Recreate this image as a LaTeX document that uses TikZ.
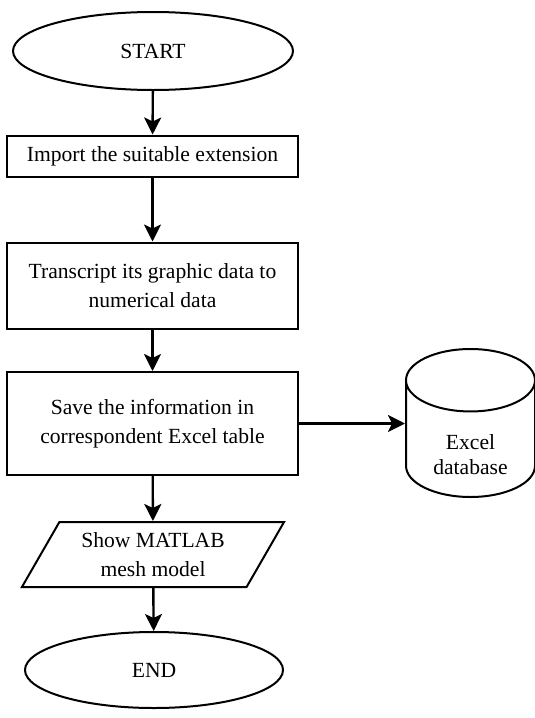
\documentclass[tikz,border=0pt]{standalone}
\usepackage{fontspec}
\setmainfont{Liberation Serif}
\usetikzlibrary{arrows.meta,shapes.geometric}

\begin{document}
\begin{tikzpicture}[x=0.5pt,y=-0.5pt,>={Stealth[length=8.5pt,width=8.5pt,inset=2pt]},
  font=\fontsize{10.8}{14.5}\selectfont,
  terminal/.style={draw,ellipse,line width=1pt,inner sep=0pt},
  procbox/.style={draw,rectangle,line width=1pt,align=center,minimum width=145.5pt,inner sep=0pt},
  iobox/.style={draw,trapezium,trapezium left angle=57,trapezium right angle=123,
    trapezium stretches,line width=1pt,align=center,minimum width=132pt,minimum height=32.5pt,inner sep=0pt},
  dbstore/.style={draw,cylinder,shape border rotate=90,aspect=0.84,line width=1pt,
    minimum width=64.5pt,minimum height=74pt,inner sep=0pt},
  flow/.style={->,line width=1.2pt}]
  \useasboundingbox (0,0) rectangle (535,718);

  \node[terminal,minimum width=140pt,minimum height=39pt] (start) at (153,51) {START};
  \node[procbox,minimum height=20.5pt] (import) at (152.5,156) {Import the suitable extension};
  \node[procbox,minimum height=43pt] (transcript) at (152.5,285.5)
    {Transcript its graphic data to\\numerical data};
  \node[procbox,minimum height=51.5pt] (save) at (152.5,423.5)
    {Save the information in\\correspondent Excel table};
  \node[dbstore,anchor=shape center] (excel) at (470.5,423) {\phantom{database}};
  \node[align=center,font=\fontsize{10.8}{12.5}\selectfont] (exceltext)
    at ([yshift=-15.75pt]excel.shape center) {Excel\\database};
  \node[iobox] (show) at (153,554.5) {Show MATLAB\\mesh model};
  \node[terminal,minimum width=129pt,minimum height=38pt] (end) at (154,670) {END};

  \draw[flow] (start) -- (import);
  \draw[flow] (import) -- (transcript);
  \draw[flow] (transcript) -- (save);
  \draw[flow] (save.east) -- (save.east -| excel.west);
  \draw[flow] (save) -- (show);
  \draw[flow] (show) -- (end);
\end{tikzpicture}
\end{document}
